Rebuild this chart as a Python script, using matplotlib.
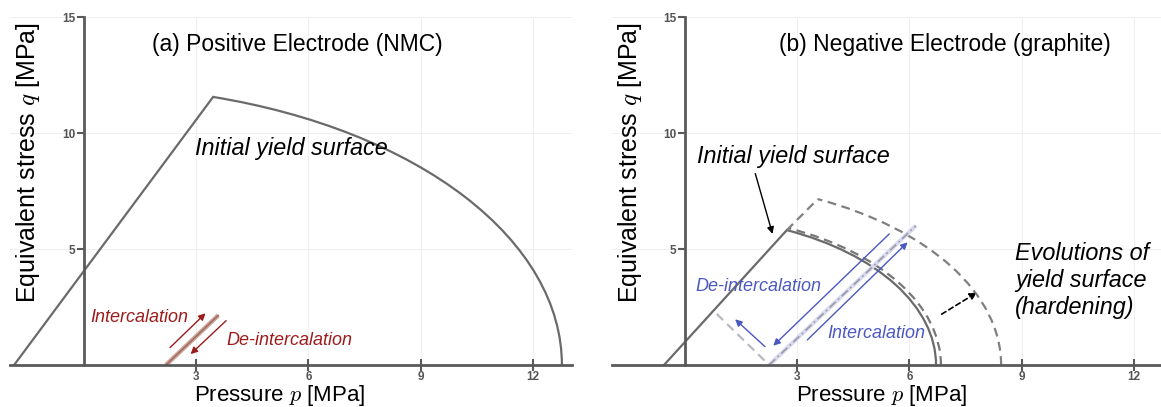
import numpy as np
import matplotlib.pyplot as plt
from matplotlib.patches import Arc

plt.rcParams['font.family'] = ['Liberation Sans', 'DejaVu Sans']
plt.rcParams['mathtext.fontset'] = 'cm'

p_ticks = [3, 6, 9, 12]
q_ticks = [5, 10, 15]

# (a) NMC: Drucker-Prager line up to the apex, then an elliptic cap
nmc_line_p = [-1.87, 3.45]
nmc_line_q = [0.0, 11.55]
nmc_cap = (12.78, 12.0)          # cap semi-axes along p and q
nmc_path_p = [2.19, 3.59]
nmc_path_q = [0.0, 2.14]
nmc_up = [(2.30, 0.75), (3.25, 2.23)]
nmc_down = [(3.80, 1.91), (2.85, 0.47)]

# (b) graphite: initial surface plus two hardened surfaces
gr_line_p = [-0.56, 2.72]
gr_line_q = [0.0, 5.81]
gr_cap = (6.71, 6.36)
gr_cap_mid = (6.84, 6.45)
gr_ext_p = [2.72, 3.55]
gr_ext_q = [5.81, 7.15]
gr_cap_out = (8.45, 7.88)
gr_path_p = [2.25, 6.17]
gr_path_q = [0.0, 6.0]
gr_back_p = [0.85, 2.25]
gr_back_q = [2.2, 0.0]
gr_deint = [(5.46, 5.65), (2.36, 0.83)]
gr_int = [(3.27, 1.08), (5.95, 5.29)]
gr_unload = [(2.14, 0.79), (1.34, 1.97)]
gr_pointer = [(1.88, 8.25), (2.34, 5.65)]
gr_harden = [(6.86, 2.19), (7.80, 3.12)]

curve = '#6a6a6a'
axis_c = '#5a5a5a'
red = '#9b1c1c'
blue = '#4a58c0'


def setup(ax, xlim, title, title_x):
    ax.set_xlim(*xlim)
    ax.set_ylim(0, 15)
    for s in ['top', 'right']:
        ax.spines[s].set_visible(False)
    ax.spines['left'].set_position(('data', 0))
    for s in ['left', 'bottom']:
        ax.spines[s].set_color(axis_c)
        ax.spines[s].set_linewidth(2)
    ax.set_xticks(p_ticks)
    ax.set_yticks(q_ticks)
    ax.tick_params(axis='x', direction='inout', length=9, width=1.5, color=axis_c,
                   labelsize=8.5, labelcolor='#555555', pad=0)
    ax.tick_params(axis='y', direction='out', length=5, width=1.5, color=axis_c,
                   labelsize=8.5, labelcolor='#555555', pad=1)
    for lab in ax.get_xticklabels() + ax.get_yticklabels():
        lab.set_fontweight('bold')
    ax.grid(color='#efefef', lw=0.8)
    ax.set_axisbelow(True)
    ax.set_xlabel('Pressure $p$ [MPa]', fontsize=16, va='center')
    ax.set_ylabel('Equivalent stress $q$ [MPa]', fontsize=18)
    ax.xaxis.set_label_coords(0.479, -0.088)
    ax.yaxis.set_label_coords(0.057, 0.583)
    ax.text(title_x, 0.92, title, transform=ax.transAxes, ha='center', va='center',
            fontsize=16.5)


def cap(ax, semi, apex_p, apex_q, **kw):
    a, b = semi
    ang = np.degrees(np.arctan2(apex_q, apex_p))
    ax.add_patch(Arc((0, 0), 2 * a, 2 * b, theta1=0, theta2=ang, **kw))


def arrow(ax, pts, color, lw=1.0, ls='-'):
    (x0, y0), (x1, y1) = pts
    ax.annotate('', xy=(x1, y1), xytext=(x0, y0),
                arrowprops=dict(arrowstyle='-|>', color=color, lw=lw, ls=ls,
                                mutation_scale=10, shrinkA=0, shrinkB=0))


fig = plt.figure(figsize=(11.61, 4.07), dpi=100)
ax1 = fig.add_axes([10 / 1161, 42 / 407, 562 / 1161, 348 / 407])
ax2 = fig.add_axes([612 / 1161, 42 / 407, 562 / 1161, 348 / 407])

# ---- (a) positive electrode
setup(ax1, (-1.98, 13.05), '(a) Positive Electrode (NMC)', 0.512)
ax1.plot(nmc_line_p, nmc_line_q, color=curve, lw=1.6)
cap(ax1, nmc_cap, nmc_line_p[1], nmc_line_q[1], color=curve, lw=1.6)
ax1.plot(nmc_path_p, nmc_path_q, color='#c9a498', lw=3.2, solid_capstyle='butt')
ax1.plot(nmc_path_p, nmc_path_q, color='#a0685a', lw=1.0)
arrow(ax1, nmc_up, red)
arrow(ax1, nmc_down, red)
ax1.text(2.97, 9.35, 'Initial yield surface', style='italic', fontsize=16.8,
         va='center', ha='left')
ax1.text(0.16, 2.03, 'Intercalation', style='italic', fontsize=13, color=red,
         va='center', ha='left')
ax1.text(3.80, 1.05, 'De-intercalation', style='italic', fontsize=13, color=red,
         va='center', ha='left')

# ---- (b) negative electrode
setup(ax2, (-1.95, 13.07), '(b) Negative Electrode (graphite)', 0.593)
ax2.plot(gr_line_p, gr_line_q, color=curve, lw=1.6)
cap(ax2, gr_cap, gr_line_p[1], gr_line_q[1], color=curve, lw=1.6)
cap(ax2, gr_cap_mid, gr_line_p[1], gr_line_q[1], color='#777777', lw=1.6,
    ls=(0, (4, 2.5)))
ax2.plot(gr_ext_p, gr_ext_q, color='#808080', lw=1.6, ls=(0, (4, 2.5)))
cap(ax2, gr_cap_out, gr_ext_p[1], gr_ext_q[1], color='#808080', lw=1.6,
    ls=(0, (4, 2.5)))
ax2.plot(gr_path_p, gr_path_q, color='#d8daee', lw=3.0, solid_capstyle='butt')
ax2.plot(gr_path_p, gr_path_q, color='#9a9aaa', lw=1.2, ls=(0, (5, 2, 1, 2)))
ax2.plot(gr_back_p, gr_back_q, color='#b9b9c4', lw=1.6, ls=(0, (4, 2.5)))
arrow(ax2, gr_deint, blue)
arrow(ax2, gr_int, blue)
arrow(ax2, gr_unload, blue)
arrow(ax2, gr_pointer, 'black')
arrow(ax2, gr_harden, 'black', lw=1.2, ls=(0, (3, 2)))
ax2.text(0.32, 8.97, 'Initial yield surface', style='italic', fontsize=16.8,
         va='center', ha='left')
ax2.text(0.27, 3.39, 'De-intercalation', style='italic', fontsize=13, color=blue,
         va='center', ha='left')
ax2.text(3.80, 1.34, 'Intercalation', style='italic', fontsize=13, color=blue,
         va='center', ha='left')
ax2.text(8.82, 3.66, 'Evolutions of\nyield surface\n(hardening)', style='italic',
         fontsize=16.8, va='center', ha='left', linespacing=1.22)

fig.savefig('out.png', dpi=100)
